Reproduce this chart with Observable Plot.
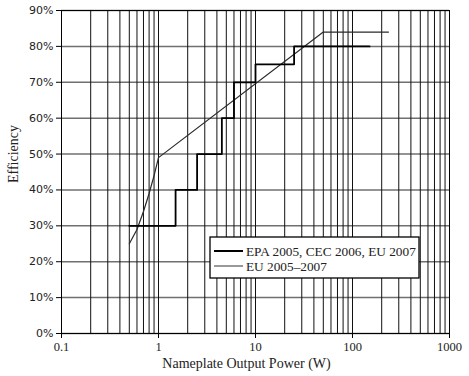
<!DOCTYPE html>
<html>
<head>
<meta charset="utf-8">
<script src="https://cdn.jsdelivr.net/npm/d3@7"></script>
<script src="https://cdn.jsdelivr.net/npm/@observablehq/plot@0.6"></script>
<style>
  html, body { margin: 0; padding: 0; background: #fff; }
  #chart { position: relative; width: 469px; height: 376px; }
</style>
</head>
<body>
<div id="chart"></div>
<script>
// ---- Data ----
const epaPower = [0.5, 1.5, 2.5, 4.5, 6, 10, 25, 150];
const epaEff   = [0.30, 0.40, 0.50, 0.60, 0.70, 0.75, 0.80, 0.80];

const euPower = [0.5, 0.6, 0.7, 0.8, 0.9, 1, 50, 235];
const euEff   = [0.25, 0.29, 0.34, 0.39, 0.44, 0.49, 0.84, 0.84];

const xTicks = [0.1, 1, 10, 100, 1000];
const yTicks = [0, 0.1, 0.2, 0.3, 0.4, 0.5, 0.6, 0.7, 0.8, 0.9];
const decades = [0.1, 1, 10, 100];
const multiples = [1, 2, 3, 4, 5, 6, 7, 8, 9];
const xGrid = decades.flatMap(d => multiples.map(m => +(d * m).toPrecision(3))).concat([1000]);

const seriesNames = ["EPA 2005, CEC 2006, EU 2007", "EU 2005\u20132007"];
const xLabel = "Nameplate Output Power (W)";
const yLabel = "Efficiency";

const epa = epaPower.map((p, i) => ({p, e: epaEff[i]}));
const eu = euPower.map((p, i) => ({p, e: euEff[i]}));

const serif = "'Liberation Serif', 'Times New Roman', serif";
const sans = "'DejaVu Sans', Verdana, sans-serif";

const chart = Plot.plot({
  width: 469,
  height: 376,
  marginLeft: 61,
  marginRight: 20,
  marginTop: 10,
  marginBottom: 43,
  style: {background: "#fff", overflow: "visible"},
  x: {type: "log", domain: [0.1, 1000], range: [61, 449]},
  y: {domain: [0, 0.9]},
  marks: [
    Plot.ruleY(yTicks, {stroke: "#707070", strokeWidth: 1.5}),
    Plot.ruleX(xGrid, {stroke: "#111", strokeWidth: 1}),
    Plot.line(eu, {x: "p", y: "e", stroke: "#2a2a2a", strokeWidth: 1.2}),
    Plot.line(epa, {x: "p", y: "e", curve: "step-after", stroke: "#000", strokeWidth: 1.8}),
    Plot.frame({stroke: "#000", strokeWidth: 1}),
    Plot.axisY({
      ticks: yTicks, tickFormat: d3.format(".0%"), tickSize: 5, tickPadding: 3,
      label: null, fontSize: 11, fontFamily: sans, fill: "#222"
    }),
    Plot.axisX({
      ticks: xTicks, tickFormat: d => String(d), tickSize: 5, tickPadding: 4,
      label: null, fontSize: 12.5, fontFamily: serif, fill: "#222"
    }),
    Plot.text([yLabel], {
      frameAnchor: "left", dx: -48, dy: 11, rotate: -90,
      fontFamily: serif, fontSize: 14, fill: "#222", text: d => d
    }),
    Plot.text([xLabel], {
      frameAnchor: "bottom", dx: -9, dy: 34,
      fontFamily: serif, fontSize: 14, fill: "#222", text: d => d
    })
  ]
});

document.getElementById("chart").appendChild(chart);

// ---- Legend (inside the plot area) ----
const svg = d3.select(chart);
const lg = svg.append("g").attr("transform", "translate(210,237)");
lg.append("rect").attr("x", 0).attr("y", 0).attr("width", 209).attr("height", 41)
  .attr("fill", "#fff").attr("stroke", "#000").attr("stroke-width", 1.3);
const legendStyles = [{stroke: "#000", w: 2}, {stroke: "#777", w: 1.5}];
seriesNames.forEach((name, i) => {
  const y = 14 + i * 15;
  lg.append("line").attr("x1", 4).attr("x2", 33).attr("y1", y).attr("y2", y)
    .attr("stroke", legendStyles[i].stroke).attr("stroke-width", legendStyles[i].w);
  lg.append("text").attr("x", 36).attr("y", y).attr("dy", "0.35em")
    .attr("text-anchor", "start")
    .attr("font-family", serif).attr("font-size", 13.3).attr("fill", "#222")
    .text(name);
});
</script>
</body>
</html>
